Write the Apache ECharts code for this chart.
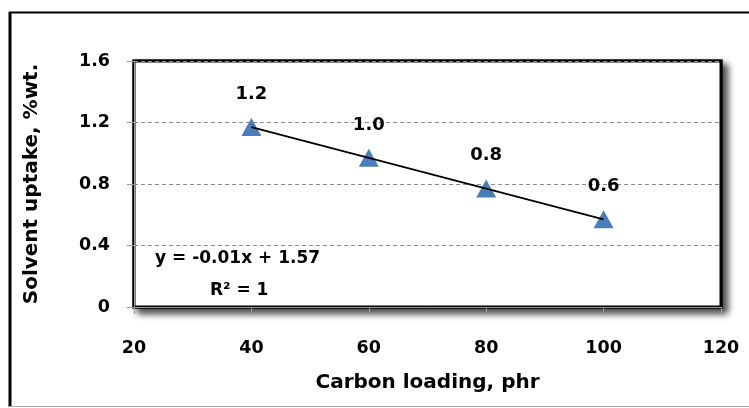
<!DOCTYPE html>
<html>
<head>
<meta charset="utf-8">
<script src="https://cdn.jsdelivr.net/npm/echarts@6/dist/echarts.min.js"></script>
<style>html,body{margin:0;padding:0;background:#fff;}#c{width:749px;height:408px;}</style>
</head>
<body>
<div id="c"></div>
<script>
const carbonLoading = [40, 60, 80, 100];
const solventUptake = [1.17, 0.97, 0.77, 0.57];
const trendX = [40, 100];
const trendY = [1.17, 0.57];
const xTicks = [20, 40, 60, 80, 100, 120];
const yTicks = [0, 0.4, 0.8, 1.2, 1.6];
const equationText = 'y = -0.01x + 1.57';
const r2Text = 'R² = 1';

const FONT = '"DejaVu Sans"';
const G = {left: 134, top: 61, right: 28, bottom: 101};
const W = 749, H = 408;
const chart = echarts.init(document.getElementById('c'), null, {renderer: 'canvas'});
chart.setOption({
  animation: false,
  backgroundColor: '#fff',
  textStyle: {fontFamily: FONT},
  grid: {
    left: G.left, top: G.top, right: G.right, bottom: G.bottom,
    show: true, borderColor: '#000', borderWidth: 3, backgroundColor: '#fff'
  },
  xAxis: {
    type: 'value', min: xTicks[0], max: xTicks[xTicks.length - 1], interval: 20,
    name: 'Carbon loading, phr', nameLocation: 'middle', nameGap: 66,
    nameTextStyle: {fontFamily: FONT, fontWeight: 'bold', fontSize: 20, color: '#000'},
    axisLine: {show: true, lineStyle: {color: '#999', width: 1}},
    axisTick: {show: true, length: 7, lineStyle: {color: '#999'}},
    axisLabel: {margin: 32, fontFamily: FONT, fontWeight: 'bold', fontSize: 17.5, color: '#000'},
    splitLine: {show: false}
  },
  yAxis: {
    type: 'value', min: yTicks[0], max: yTicks[yTicks.length - 1], interval: 0.4,
    name: 'Solvent uptake, %wt.', nameLocation: 'middle', nameGap: 92,
    nameTextStyle: {fontFamily: FONT, fontWeight: 'bold', fontSize: 20, color: '#000'},
    axisLine: {show: true, lineStyle: {color: '#999', width: 1}},
    axisTick: {show: true, length: 7, lineStyle: {color: '#999'}},
    axisLabel: {margin: 24, fontFamily: FONT, fontWeight: 'bold', fontSize: 17.5, color: '#000',
      formatter: v => (v === 0 ? '0' : v.toFixed(1))},
    splitLine: {show: true, lineStyle: {color: '#8c8c8c', type: [4, 3], width: 1}}
  },
  series: [
    {
      type: 'line', data: trendX.map((x, i) => [x, trendY[i]]),
      showSymbol: false, symbol: 'none', lineStyle: {color: '#000', width: 1.6}, z: 3, silent: true
    },
    {
      type: 'scatter', data: carbonLoading.map((x, i) => [x, solventUptake[i]]),
      symbol: 'triangle', symbolSize: [20, 18], itemStyle: {color: '#4A7EBB', opacity: 1}, z: 2,
      label: {show: true, position: 'top', distance: 15, fontFamily: FONT, fontWeight: 'bold',
        fontSize: 18, color: '#000', opacity: 1, formatter: p => p.value[1].toFixed(1)}
    }
  ],
  graphic: [
    {type: 'rect', z: -10, shape: {x: G.left, y: G.top, width: W - G.left - G.right, height: H - G.top - G.bottom},
      style: {fill: '#fff', stroke: '#000', lineWidth: 3, shadowColor: 'rgba(0,0,0,0.75)', shadowBlur: 7, shadowOffsetX: 5, shadowOffsetY: 5}, silent: true},
    {type: 'line', shape: {x1: 9, y1: 12.5, x2: 749, y2: 12.5}, style: {stroke: '#000', lineWidth: 2}, silent: true},
    {type: 'line', shape: {x1: 10, y1: 12, x2: 10, y2: 407}, style: {stroke: '#000', lineWidth: 3}, silent: true},
    {type: 'line', shape: {x1: 9, y1: 406.5, x2: 749, y2: 406.5}, style: {stroke: '#aaa', lineWidth: 1}, silent: true},
    {type: 'text', left: 155, top: 250, style: {text: equationText, fontFamily: FONT, fontWeight: 'bold', fontSize: 17, fill: '#000'}},
    {type: 'text', left: 210, top: 282, style: {text: r2Text, fontFamily: FONT, fontWeight: 'bold', fontSize: 17, fill: '#000'}}
  ]
});
</script>
</body>
</html>
